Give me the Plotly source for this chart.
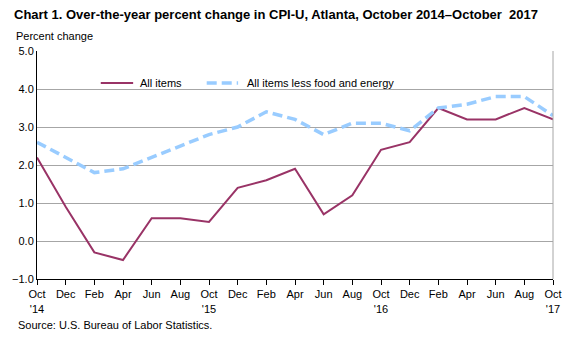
import plotly.graph_objects as go

months = ["Oct", "Dec", "Feb", "Apr", "Jun", "Aug",
          "Oct", "Dec", "Feb", "Apr", "Jun", "Aug",
          "Oct", "Dec", "Feb", "Apr", "Jun", "Aug", "Oct"]
year_marks = {0: "'14", 6: "'15", 12: "'16", 18: "'17"}
tick_labels = [m + ("<br>" + year_marks[i] if i in year_marks else "") for i, m in enumerate(months)]

series_names = ["All items", "All items less food and energy"]
all_items = [2.2, 0.9, -0.3, -0.5, 0.6, 0.6, 0.5, 1.4, 1.6, 1.9, 0.7, 1.2,
             2.4, 2.6, 3.5, 3.2, 3.2, 3.5, 3.2]
core_items = [2.6, 2.2, 1.8, 1.9, 2.2, 2.5, 2.8, 3.0, 3.4, 3.2, 2.8, 3.1,
              3.1, 2.9, 3.5, 3.6, 3.8, 3.8, 3.3]

x = list(range(len(months)))
FONT = "Liberation Sans, Arial, sans-serif"

# plot area in pixels, used to place text and legend items in paper units
PL, PR, PT, PB = 31, 557, 51, 279
PW, PH = PR - PL, PB - PT


def px_x(px):
    return (px - PL) / PW


def px_y(py):
    return (PB - py) / PH


line_styles = [dict(color="#993366", width=2),
               dict(color="#99CCFF", width=3.5, dash="10px,5px")]

fig = go.Figure()
fig.add_trace(go.Scatter(x=x, y=all_items, mode="lines", name=series_names[0],
                         line=line_styles[0], showlegend=False))
fig.add_trace(go.Scatter(x=x, y=core_items, mode="lines", name=series_names[1],
                         line=line_styles[1], showlegend=False))

# hand-placed legend: sample line plus label for each series
legend_slots = [(96, 129, 134), (204, 236, 243)]
legend_y = 83
shapes = [dict(type="line", xref="paper", yref="paper", x0=1, x1=1, y0=0, y1=1,
               line=dict(color="#A6A6A6", width=1))]
annotations = [
    dict(text="<b>Chart 1. Over-the-year percent change in CPI-U, Atlanta, October 2014\u2013October  2017</b>",
         xref="paper", yref="paper", x=px_x(6), y=px_y(14), xanchor="left", yanchor="middle",
         showarrow=False, font=dict(size=13, family=FONT)),
    dict(text="Percent change", xref="paper", yref="paper", x=px_x(8), y=px_y(36),
         xanchor="left", yanchor="middle", showarrow=False, font=dict(size=11, family=FONT)),
    dict(text="Source: U.S. Bureau of Labor Statistics.", xref="paper", yref="paper",
         x=px_x(10), y=px_y(325), xanchor="left", yanchor="middle", showarrow=False,
         font=dict(size=11, family=FONT)),
]
for name, style, (lx0, lx1, tx) in zip(series_names, line_styles, legend_slots):
    shapes.append(dict(type="line", xref="paper", yref="paper",
                       x0=px_x(lx0), x1=px_x(lx1), y0=px_y(legend_y), y1=px_y(legend_y),
                       line=style))
    annotations.append(dict(text=name, xref="paper", yref="paper", x=px_x(tx), y=px_y(legend_y),
                            xanchor="left", yanchor="middle", showarrow=False,
                            font=dict(size=11, family=FONT)))

fig.update_layout(
    width=574, height=337,
    margin=dict(l=PL, r=574 - PR, t=PT, b=337 - PB),
    paper_bgcolor="white", plot_bgcolor="white",
    font=dict(family=FONT, size=11, color="black"),
    xaxis=dict(range=[0, 18], tickvals=x, ticktext=tick_labels, tickangle=0,
               showgrid=False, showline=True, linecolor="black", linewidth=1,
               ticks="outside", ticklen=5, tickcolor="black", zeroline=False,
               tickfont=dict(size=11)),
    yaxis=dict(range=[-1, 5], dtick=1, tickformat=".1f", showgrid=True,
               gridcolor="#A6A6A6", gridwidth=1, showline=True, linecolor="black",
               linewidth=1, zeroline=False, ticks="", tickfont=dict(size=11)),
    annotations=annotations,
    shapes=shapes,
)

fig.write_html("out.html")
